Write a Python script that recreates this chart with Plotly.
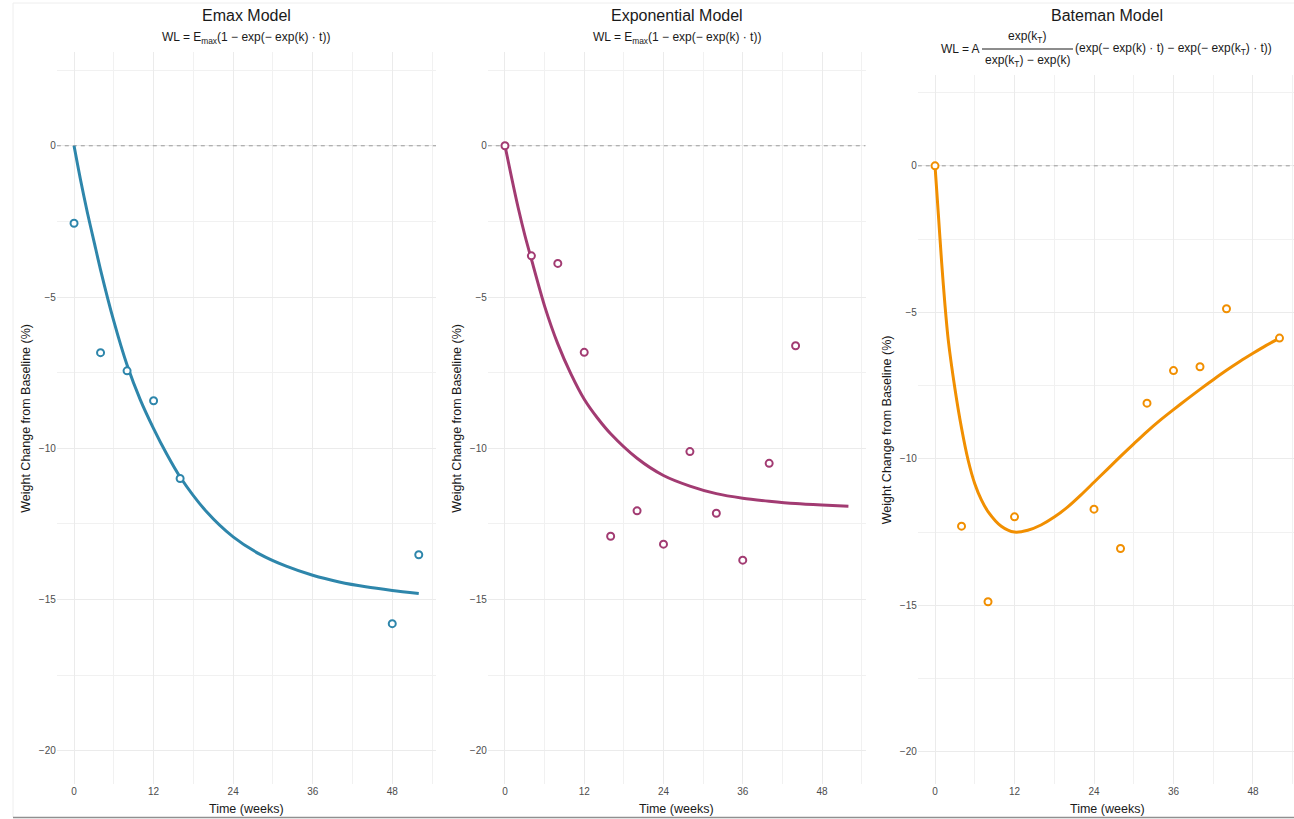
import plotly.graph_objects as go

W, H = 1294, 819

# ---- observed weight change (%) by week ----
emax_weeks = [0, 4, 8, 12, 16, 48, 52]
emax_obs = [-2.56, -6.84, -7.44, -8.43, -11.0, -15.8, -13.52]

expo_weeks = [0, 4, 8, 12, 16, 20, 24, 28, 32, 36, 40, 44]
expo_obs = [0.0, -3.64, -3.89, -6.83, -12.91, -12.07, -13.17, -10.11, -12.15, -13.7, -10.5, -6.61]

bate_weeks = [0, 4, 8, 12, 24, 28, 32, 36, 40, 44, 52]
bate_obs = [0.0, -12.3, -14.88, -11.98, -11.72, -13.06, -8.1, -6.99, -6.86, -4.88, -5.88]

# ---- fitted model curves ----
emax_fit_weeks = [0, 1, 2, 3, 4, 6, 8, 10, 12, 14, 16, 20, 24, 28, 32, 36, 40, 44, 48, 52]
emax_fit = [0.0, -1.15, -2.2, -3.15, -4.1, -5.8, -7.25, -8.4, -9.35, -10.2, -10.95,
            -12.1, -12.93, -13.5, -13.9, -14.2, -14.42, -14.58, -14.7, -14.8]

expo_fit_weeks = [0, 1, 2, 3, 4, 6, 8, 10, 12, 14, 16, 20, 24, 28, 32, 36, 40, 44, 48, 52]
expo_fit = [0.0, -1.05, -2.05, -2.95, -3.75, -5.3, -6.55, -7.55, -8.38, -9.0, -9.52,
            -10.33, -10.9, -11.25, -11.5, -11.65, -11.75, -11.83, -11.88, -11.92]

bate_fit_weeks = [0, 0.5, 1, 1.5, 2, 3, 4, 5, 6, 7, 8, 10, 12, 14, 16, 18, 20, 22, 24, 26,
                  28, 30, 32, 34, 36, 38, 40, 42, 44, 46, 48, 50, 52]
bate_fit = [0.0, -1.65, -3.3, -4.75, -5.95, -7.6, -8.95, -10.05, -10.85, -11.4, -11.8,
            -12.3, -12.5, -12.44, -12.26, -11.99, -11.65, -11.24, -10.8, -10.36, -9.92,
            -9.49, -9.07, -8.68, -8.32, -7.97, -7.63, -7.3, -6.98, -6.68, -6.4, -6.13, -5.88]

# ---- axis ticks ----
x_ticks = [0, 12, 24, 36, 48]
x_minor = [6, 18, 30, 42, 54]
y_ticks = [0, -5, -10, -15, -20]
y_minor = [2.5, -2.5, -7.5, -12.5, -17.5]
baseline = 0

titles = ["Emax Model", "Exponential Model", "Bateman Model"]
colors = ["#2E86AB", "#A23B72", "#F18F01"]

FONT = "Liberation Sans, Arial, sans-serif"
GRID = "#ebebeb"
GRID_MINOR = "#f1f1f1"


def px(x):
    return x / W


def py(y):
    return 1 - y / H


panels = [
    dict(title=titles[0], color=colors[0], w=emax_weeks, v=emax_obs,
         fw=emax_fit_weeks, fv=emax_fit, left=56.8, right=436.0, top=52, xr=[-2.6, 54.6]),
    dict(title=titles[1], color=colors[1], w=expo_weeks, v=expo_obs,
         fw=expo_fit_weeks, fv=expo_fit, left=487.8, right=865.6, top=52, xr=[-2.6, 54.6]),
    dict(title=titles[2], color=colors[2], w=bate_weeks, v=bate_obs,
         fw=bate_fit_weeks, fv=bate_fit, left=917.8, right=1294.0, top=75, xr=[-2.6, 54.19]),
]
BOTTOM = 784

fig = go.Figure()
layout = {}
shapes = []
annotations = []

for i, p in enumerate(panels, start=1):
    xa = "x" if i == 1 else f"x{i}"
    ya = "y" if i == 1 else f"y{i}"
    c = p["color"]

    # dashed baseline across the full axis range, under the data
    fig.add_trace(go.Scatter(
        x=p["xr"], y=[baseline, baseline], mode="lines",
        line=dict(color="#9a9a9a", width=1, dash="4px,4px"),
        xaxis=xa, yaxis=ya, hoverinfo="skip", showlegend=False))
    fig.add_trace(go.Scatter(
        x=p["fw"], y=p["fv"], mode="lines",
        line=dict(color=c, width=3, shape="spline", smoothing=0.8),
        xaxis=xa, yaxis=ya, hoverinfo="skip", showlegend=False))
    fig.add_trace(go.Scatter(
        x=p["w"], y=p["v"], mode="markers",
        marker=dict(symbol="circle", size=7, color="white", line=dict(color=c, width=2)),
        xaxis=xa, yaxis=ya, showlegend=False))

    layout["xaxis" if i == 1 else f"xaxis{i}"] = dict(
        domain=[px(p["left"]), px(p["right"])], range=p["xr"], anchor=ya,
        tickmode="array", tickvals=x_ticks, ticks="", showline=False, zeroline=False,
        showgrid=True, gridcolor=GRID, gridwidth=1,
        minor=dict(tickmode="array", tickvals=x_minor, showgrid=True, gridcolor=GRID_MINOR, gridwidth=1),
        tickfont=dict(family=FONT, size=10, color="#4d4d4d"))
    layout["yaxis" if i == 1 else f"yaxis{i}"] = dict(
        domain=[py(BOTTOM), py(p["top"])], range=[-21.1, 3.1], anchor=xa,
        tickmode="array", tickvals=y_ticks, ticks="", showline=False, zeroline=False,
        showgrid=True, gridcolor=GRID, gridwidth=1,
        minor=dict(tickmode="array", tickvals=y_minor, showgrid=True, gridcolor=GRID_MINOR, gridwidth=1),
        tickfont=dict(family=FONT, size=10, color="#4d4d4d"))

    cx = (p["left"] + (p["right"] if i < 3 else 1296.8)) / 2
    annotations.append(dict(text=p["title"], x=px(cx), y=py(15), xref="paper", yref="paper",
                            xanchor="center", yanchor="middle", showarrow=False,
                            font=dict(family=FONT, size=16, color="#1a1a1a")))
    annotations.append(dict(text="Time (weeks)", x=px(cx), y=py(809), xref="paper", yref="paper",
                            xanchor="center", yanchor="middle", showarrow=False,
                            font=dict(family=FONT, size=12.5, color="#1a1a1a")))
    annotations.append(dict(text="Weight Change from Baseline (%)", x=px(p["left"] - 31),
                            y=py((p["top"] + BOTTOM) / 2), xref="paper", yref="paper",
                            xanchor="center", yanchor="middle", textangle=-90, showarrow=False,
                            font=dict(family=FONT, size=12.5, color="#1a1a1a")))

# model equations
eq_font = dict(family=FONT, size=12, color="#1a1a1a")
emax_eq = "WL = E<sub>max</sub>(1 − exp(− exp(k) · t))"
for cx in (246.4, 676.7):
    annotations.append(dict(text=emax_eq, x=px(cx), y=py(38), xref="paper", yref="paper",
                            xanchor="center", yanchor="middle", showarrow=False, font=eq_font))

bateman_parts = [
    dict(text="WL = A", x=px(982), y=py(49), xanchor="right", yanchor="middle"),
    dict(text="exp(k<sub>T</sub>)", x=px(1027), y=py(37), xanchor="center", yanchor="middle"),
    dict(text="exp(k<sub>T</sub>) − exp(k)", x=px(1027), y=py(61), xanchor="center", yanchor="middle"),
    dict(text="(exp(− exp(k) · t) − exp(− exp(k<sub>T</sub>) · t))", x=px(1073), y=py(49),
         xanchor="left", yanchor="middle"),
]
for a in bateman_parts:
    a.update(xref="paper", yref="paper", showarrow=False, font=eq_font)
annotations += bateman_parts

# fraction bar of the Bateman equation
shapes.append(dict(type="line", xref="paper", yref="paper", x0=px(982), x1=px(1073),
                   y0=py(49), y1=py(49), line=dict(color="#1a1a1a", width=1)))

# outer frame lines
shapes.append(dict(type="line", xref="paper", yref="paper", x0=px(13), x1=1, y0=py(3), y1=py(3),
                   line=dict(color="#eeeeee", width=1)))
shapes.append(dict(type="line", xref="paper", yref="paper", x0=px(13), x1=px(13), y0=py(3), y1=py(817),
                   line=dict(color="#eeeeee", width=1)))
shapes.append(dict(type="line", xref="paper", yref="paper", x0=px(13), x1=1, y0=py(817.5), y1=py(817.5),
                   line=dict(color="#909090", width=1.5)))

fig.update_layout(
    width=W, height=H, margin=dict(l=0, r=0, t=0, b=0),
    paper_bgcolor="white", plot_bgcolor="white",
    showlegend=False, shapes=shapes, annotations=annotations,
    font=dict(family=FONT), **layout)

fig.write_html("out.html")
